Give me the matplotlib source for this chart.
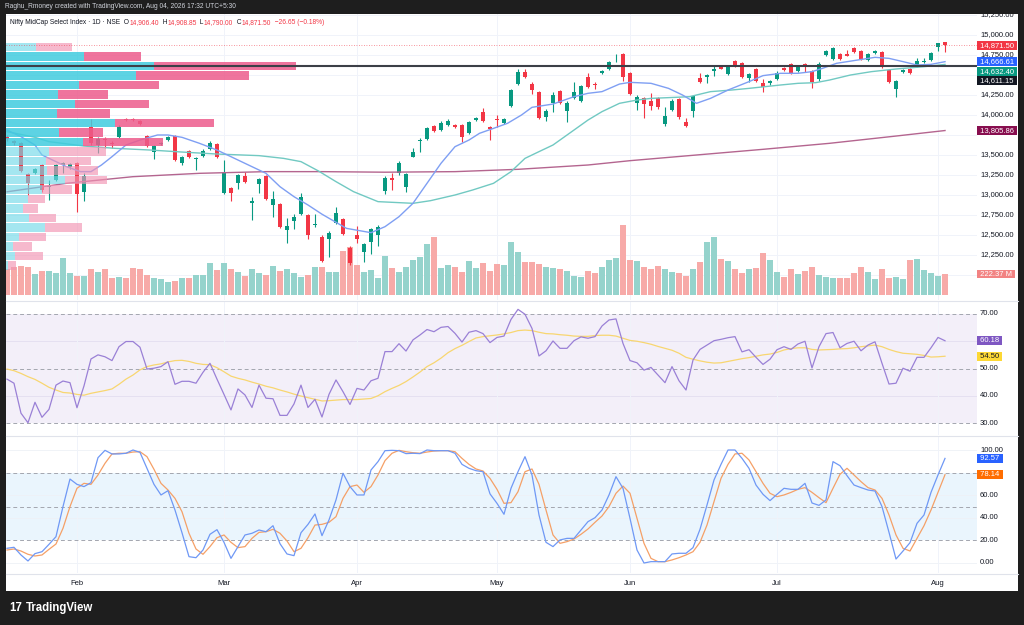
import matplotlib
matplotlib.use("Agg")
import matplotlib.pyplot as plt
from matplotlib.patches import Rectangle
from matplotlib.lines import Line2D

plt.rcParams["font.family"] = ["Liberation Sans", "DejaVu Sans"]

# --- data (one daily bar per entry, mid Jan -> Aug 04) ---
opens = [13725, 13675, 13646, 13262, 13279, 13375, 13100, 13187, 13380, 13354,
         13396, 13042, 13846, 13625, 13700, 13654, 13729, 13954, 13954, 13925,
         13737, 13533, 13633, 13687, 13737, 13396, 13550, 13450, 13492, 13579,
         13633, 13029, 13092, 13154, 13237, 12904, 13137, 13242, 12875, 12883,
         12562, 12671, 12762, 12746, 12625, 12479, 12446, 12654, 12696, 12333,
         12504, 12287, 12408, 12500, 13054, 13208, 13271, 13104, 13479, 13675,
         13700, 13862, 13812, 13875, 13879, 13879, 13771, 13937, 14037, 13850,
         13940, 13904, 14117, 14387, 14533, 14387, 14292, 13971, 14146, 14300,
         14054, 14208, 14179, 14471, 14387, 14521, 14571, 14695, 14758, 14521,
         14154, 14208, 14175, 14217, 13887, 14062, 14196, 13917, 14050, 14467,
         14479, 14554, 14596, 14512, 14675, 14646, 14467, 14575, 14404, 14396,
         14450, 14587, 14633, 14554, 14637, 14550, 14446, 14750, 14700, 14762,
         14758, 14833, 14804, 14687, 14775, 14783, 14562, 14321, 14537, 14575,
         14604, 14667, 14687, 14846, 14906.40]
highs = [13750, 13690, 13660, 13280, 13340, 13390, 13187, 13390, 13417, 13400,
         13410, 13270, 13946, 13720, 13720, 13670, 13870, 13965, 13962, 13935,
         13750, 13630, 13665, 13735, 13750, 13485, 13560, 13480, 13570, 13680,
         13650, 13437, 13105, 13265, 13290, 12979, 13215, 13255, 13054, 12895,
         12708, 12762, 13029, 12760, 12767, 12495, 12545, 12854, 12710, 12362,
         12612, 12400, 12590, 12625, 13235, 13279, 13420, 13280, 13583, 13708,
         13850, 13875, 13920, 13945, 13890, 13890, 13930, 13980, 14083, 13860,
         14000, 13960, 14325, 14570, 14570, 14417, 14305, 14070, 14287, 14315,
         14170, 14417, 14375, 14521, 14417, 14565, 14670, 14758, 14770, 14535,
         14250, 14220, 14279, 14230, 14096, 14195, 14210, 13958, 14250, 14529,
         14512, 14612, 14605, 14610, 14690, 14660, 14520, 14590, 14446, 14435,
         14545, 14600, 14645, 14610, 14654, 14565, 14667, 14815, 14845, 14775,
         14812, 14845, 14815, 14775, 14812, 14795, 14575, 14440, 14575, 14587,
         14708, 14708, 14785, 14905, 14908.85]
lows = [13670, 13630, 13290, 13000, 13260, 13040, 12937, 13170, 13270, 13330,
        12792, 12930, 13630, 13520, 13583, 13583, 13710, 13925, 13925, 13870,
        13600, 13446, 13620, 13675, 13425, 13380, 13460, 13312, 13480, 13565,
        13465, 13010, 12929, 13070, 13150, 12687, 13029, 12935, 12729, 12590,
        12404, 12579, 12745, 12450, 12604, 12165, 12229, 12640, 12495, 12130,
        12396, 12167, 12262, 12362, 13012, 13062, 13255, 13042, 13470, 13542,
        13690, 13790, 13800, 13865, 13835, 13667, 13760, 13925, 13915, 13687,
        13854, 13890, 14100, 14375, 14465, 14262, 13950, 13929, 14042, 14140,
        13917, 14195, 14165, 14335, 14320, 14510, 14560, 14667, 14429, 14250,
        14062, 13958, 14062, 14080, 13867, 14050, 13955, 13850, 13979, 14395,
        14396, 14487, 14570, 14500, 14605, 14458, 14417, 14415, 14292, 14380,
        14440, 14550, 14515, 14540, 14542, 14333, 14430, 14740, 14690, 14690,
        14735, 14770, 14690, 14675, 14765, 14590, 14400, 14229, 14525, 14510,
        14595, 14645, 14675, 14804, 14790.00]
closes = [13700, 13650, 13305, 13150, 13321, 13062, 13115, 13375, 13396, 13387,
          13012, 13242, 13646, 13700, 13690, 13637, 13854, 13937, 13937, 13883,
          13612, 13617, 13654, 13721, 13437, 13471, 13471, 13455, 13554, 13646,
          13479, 13279, 13029, 13250, 13162, 12929, 13200, 12950, 12946, 12604,
          12612, 12729, 12979, 12504, 12630, 12179, 12529, 12779, 12512, 12146,
          12454, 12383, 12575, 12604, 13217, 13187, 13404, 13262, 13542, 13680,
          13833, 13804, 13904, 13929, 13846, 13721, 13917, 13967, 13925, 13825,
          13935, 13946, 14312, 14542, 14479, 14312, 13967, 14054, 14250, 14154,
          14154, 14283, 14362, 14346, 14371, 14554, 14658, 14700, 14471, 14262,
          14229, 14137, 14112, 14096, 13987, 14179, 13971, 13862, 14237, 14408,
          14500, 14571, 14579, 14596, 14617, 14471, 14508, 14429, 14346, 14425,
          14529, 14562, 14529, 14596, 14630, 14408, 14637, 14804, 14833, 14700,
          14742, 14783, 14700, 14762, 14800, 14604, 14417, 14429, 14562, 14521,
          14679, 14675, 14771, 14898.15, 14871.50]
volumes_m = [280, 293, 311, 293, 219, 258, 258, 229, 395, 229,
             201, 201, 275, 247, 272, 177, 191, 180, 289, 272,
             212, 177, 166, 141, 152, 180, 177, 215, 215, 342,
             261, 335, 275, 240, 201, 275, 229, 208, 304, 251,
             279, 233, 194, 212, 297, 293, 240, 244, 466, 508,
             318, 247, 265, 177, 413, 282, 247, 300, 371, 406,
             540, 611, 282, 318, 293, 244, 360, 289, 335, 254,
             328, 318, 561, 455, 349, 349, 328, 300, 286, 272,
             254, 201, 191, 258, 233, 293, 371, 392, 741, 371,
             360, 297, 279, 307, 272, 247, 229, 205, 275, 349,
             565, 618, 381, 360, 275, 229, 272, 289, 448, 371,
             247, 191, 275, 222, 254, 293, 215, 194, 177, 180,
             180, 229, 293, 247, 169, 275, 177, 191, 173, 371,
             381, 261, 229, 201, 222.37]

# moving averages, sampled off the chart: (bar index, value)
ma_fast_idx = [0, 2, 4, 5, 7, 8.5, 10.5, 12, 13.5, 15, 17, 19, 21.5, 23, 25, 27.5,
               30, 32.5, 35, 37, 39, 41, 43, 45, 48.5, 52, 54, 56, 58, 60, 62, 64,
               66, 67.5, 69.5, 71.5, 73.5, 75, 78, 81, 83, 85, 87.5, 89, 92, 94.5,
               96.5, 98.5, 100.5, 103, 106, 108, 110.5, 113, 115, 116.5, 118.5,
               121.5, 124, 126, 128, 130, 132, 134]
ma_fast_val = [13812, 13729, 13625, 13500, 13417, 13354, 13292, 13292, 13375, 13479,
               13625, 13687, 13750, 13750, 13721, 13646, 13562, 13458, 13354, 13271,
               13104, 12979, 12875, 12760, 12583, 12529, 12604, 12729, 12896, 13146,
               13396, 13604, 13687, 13771, 13833, 13896, 14000, 14096, 14137, 14229,
               14271, 14292, 14387, 14408, 14396, 14333, 14250, 14146, 14208, 14312,
               14417, 14492, 14521, 14521, 14542, 14583, 14646, 14687, 14721, 14708,
               14667, 14625, 14633, 14666.61]
ma_slow_idx = [0, 4, 6, 11, 15.5, 20.5, 25, 30, 36, 39.5, 42, 44.5, 47, 49.5, 53, 58,
               60.5, 64, 66.5, 69.5, 72, 74, 76, 78, 81, 83, 85, 87.5, 90, 92, 94.5,
               97.5, 100.5, 103.5, 106, 110.5, 113, 115.5, 117.5, 120.5, 123.5, 127,
               131, 134]
ma_slow_val = [13792, 13721, 13667, 13612, 13583, 13562, 13537, 13512, 13492, 13458,
               13417, 13300, 13167, 13042, 12917, 12896, 12929, 13000, 13062, 13146,
               13292, 13458, 13542, 13625, 13812, 13937, 14042, 14146, 14187, 14208,
               14217, 14229, 14292, 14312, 14333, 14375, 14396, 14404, 14437, 14500,
               14542, 14575, 14604, 14632.40]
ma_long_idx = [0, 8.5, 18, 27.5, 37, 45, 54, 64, 73, 83, 89, 98.5, 108, 117.5, 127, 134]
ma_long_val = [13040, 13146, 13229, 13271, 13292, 13292, 13285, 13292, 13321, 13375,
               13429, 13500, 13571, 13646, 13737, 13805.86]

rsi = [46.1, 44.6, 33.6, 30.1, 37.6, 32.1, 35.0, 43.9, 45.4, 44.8,
       35.6, 43.6, 53.5, 55.0, 54.3, 52.9, 58.0, 59.9, 59.9, 57.8,
       49.8, 50.1, 50.7, 52.5, 44.2, 45.3, 45.3, 44.6, 48.6, 51.9,
       46.1, 40.5, 34.8, 42.5, 40.3, 35.7, 43.9, 39.1, 38.9, 32.8,
       32.8, 37.0, 43.9, 35.7, 38.7, 32.2, 40.5, 45.8, 41.5, 36.8,
       42.7, 42.1, 45.5, 46.4, 56.2, 56.2, 59.1, 56.4, 60.5, 62.3,
       64.3, 63.5, 65.1, 65.4, 62.9, 59.7, 63.3, 63.9, 62.8, 59.5,
       61.4, 61.9, 68.0, 71.7, 69.9, 64.7, 54.6, 56.5, 60.1, 57.4,
       57.4, 60.2, 61.6, 61.1, 61.7, 65.6, 67.8, 68.2, 59.2, 52.9,
       52.1, 49.4, 50.4, 47.6, 44.8, 50.7, 45.5, 42.1, 53.1, 57.0,
       58.6, 60.2, 60.7, 61.3, 61.7, 56.1, 56.9, 54.1, 51.5, 53.4,
       56.9, 58.0, 57.0, 59.0, 60.0, 50.2, 58.0, 62.8, 63.2, 57.6,
       59.2, 60.0, 56.5, 58.6, 59.8, 51.9, 44.3, 44.6, 50.1, 49.0,
       54.1, 54.1, 57.6, 61.4, 60.18]
rsi_ma = [49.8, 49.2, 48.2, 47.0, 46.0, 44.6, 43.1, 42.1, 41.2, 41.0,
          40.5, 40.2, 40.9, 41.4, 41.9, 42.5, 44.2, 46.1, 47.6, 49.5,
          50.7, 51.3, 51.7, 52.4, 52.9, 53.0, 52.6, 51.9, 51.5, 51.4,
          50.3, 48.8, 47.2, 46.4, 45.8, 45.0, 44.3, 43.5, 42.9, 42.1,
          41.4, 40.6, 39.9, 39.3, 38.7, 38.1, 38.2, 38.4, 38.6, 38.6,
          38.6, 38.8, 39.0, 40.0, 41.5, 42.7, 43.8, 45.2, 46.9, 48.7,
          50.7, 52.1, 53.8, 55.8, 57.3, 58.5, 59.9, 61.2, 61.7, 62.0,
          62.3, 62.7, 63.2, 63.9, 64.1, 63.9, 63.3, 62.8, 62.7, 62.4,
          62.2, 61.9, 61.8, 61.8, 62.1, 62.2, 62.2, 61.9, 61.1, 60.3,
          60.0, 59.5, 58.9, 58.1, 57.4, 56.7, 55.6, 54.1, 53.4, 52.8,
          52.3, 52.0, 52.1, 52.6, 53.1, 53.6, 54.0, 54.5, 55.0, 55.3,
          55.9, 56.8, 57.3, 57.6, 57.6, 57.0, 56.8, 56.9, 57.0, 57.2,
          57.3, 57.6, 58.0, 58.3, 58.6, 58.0, 57.0, 56.2, 55.6, 55.4,
          55.2, 54.8, 54.2, 54.3, 54.50]
stoch_k = [13.0, 13.9, 7.1, 1.8, 8.3, 10.0, 16.5, 23.3, 49.9, 74.3,
           69.6, 67.6, 71.1, 93.2, 99.7, 96.5, 96.5, 97.1, 100.0, 97.9,
           83.8, 69.6, 60.2, 64.0, 46.9, 26.8, 5.6, 4.7, 11.5, 25.4,
           29.5, 18.3, 4.1, 14.5, 24.8, 26.3, 29.2, 27.7, 33.0, 17.1,
           8.0, 6.5, 26.8, 34.2, 43.4, 24.2, 38.1, 55.8, 79.4, 67.6,
           60.2, 60.2, 82.3, 89.7, 99.4, 99.7, 99.4, 96.8, 97.1, 96.8,
           100.0, 99.4, 99.4, 99.4, 97.1, 87.3, 83.8, 81.7, 80.8, 61.2,
           52.8, 43.1, 66.1, 80.8, 94.1, 77.9, 42.5, 18.3, 14.5, 20.4,
           21.8, 21.8, 29.2, 36.6, 40.1, 46.9, 60.2, 76.4, 66.1, 39.5,
           11.5, 0.0, 1.2, 1.2, 1.2, 8.0, 8.6, 8.6, 13.6, 29.8,
           51.3, 73.5, 87.3, 100.0, 100.0, 92.6, 83.8, 69.0, 60.8, 55.2,
           60.8, 66.1, 65.2, 65.2, 70.5, 53.1, 51.0, 55.8, 89.7, 86.1,
           77.3, 69.0, 66.7, 64.6, 63.7, 49.9, 27.1, 3.5, 10.6, 18.0,
           35.1, 42.5, 62.5, 77.9, 92.57]
stoch_d = [11.5, 12.4, 10.6, 7.7, 6.2, 7.1, 12.1, 16.8, 30.7, 49.9,
           66.1, 70.5, 69.6, 77.9, 88.2, 96.5, 97.1, 97.1, 98.2, 98.5,
           94.1, 82.9, 70.5, 64.6, 57.2, 45.4, 26.3, 12.4, 7.7, 14.5,
           22.4, 24.8, 18.3, 13.6, 14.5, 21.8, 27.1, 27.7, 29.8, 26.3,
           19.5, 10.0, 13.0, 22.4, 33.6, 34.2, 36.0, 41.0, 57.2, 67.6,
           69.0, 62.5, 67.6, 77.9, 90.6, 97.1, 99.7, 98.5, 97.6, 97.1,
           98.2, 99.1, 99.4, 99.4, 98.5, 92.6, 87.3, 83.2, 81.4, 74.9,
           65.2, 52.8, 53.4, 63.1, 80.8, 83.2, 69.6, 46.9, 24.8, 17.4,
           18.9, 21.2, 25.4, 30.1, 36.0, 41.6, 49.9, 61.7, 68.1, 61.7,
           39.5, 17.4, 4.1, 1.2, 1.2, 2.7, 4.7, 7.1, 10.0, 18.3,
           33.6, 54.3, 74.9, 87.3, 96.5, 97.1, 91.2, 80.8, 70.5, 61.7,
           58.7, 60.2, 62.5, 65.2, 66.7, 62.5, 57.8, 53.4, 66.1, 78.5,
           83.8, 77.9, 72.0, 66.7, 64.6, 57.2, 42.5, 24.8, 13.0, 10.6,
           21.8, 33.0, 46.9, 62.5, 78.14]

# visible-range volume profile, rows from top (up / down volume, relative)
vp_top_price = 14910
vp_row_step = 118.75
vp_up = [30, 78, 148, 130, 73, 52, 69, 51, 109, 53, 77, 43, 40, 41, 59, 36,
         22, 17, 23, 39, 13, 7, 9, 2]
vp_down = [36, 57, 142, 113, 80, 50, 74, 53, 99, 44, 80, 57, 45, 51, 42, 30,
           17, 15, 27, 37, 27, 19, 28, 8]
poc_price = 14611.15

month_labels = ["Feb", "Mar", "Apr", "May", "Jun", "Jul", "Aug"]
month_start_idx = [10, 31, 50, 70, 89, 110, 133]

# --- layout, in pixels of the 1024x625 canvas ---
W, H = 1024, 625
PLOT_L, PLOT_R, SCALE_R = 6, 977, 1018
MAIN_Y, RSI_Y, STO_Y = (14, 300), (302, 435), (436, 573)
XLIM = (-0.14, 138.57)
TAG_PX = 9.5  # height of a price tag on the scale

UP, DOWN = "#089981", "#f23645"
VOL_UP, VOL_DOWN = "#95d3cc", "#f7aaa8"
TXT = "#131722"
GRID = "#f0f3fa"
FS = 5.5

fig = plt.figure(figsize=(W / 100, H / 100), dpi=100, facecolor="#1e1e1e")
fig.add_artist(Rectangle((PLOT_L / W, 1 - 591 / H), (SCALE_R - PLOT_L) / W, 577 / H,
                         transform=fig.transFigure, facecolor="white",
                         edgecolor="none", zorder=-1))


def rect(x0, x1, ytop, ybot):
    return [x0 / W, 1 - ybot / H, (x1 - x0) / W, (ybot - ytop) / H]


def px_line(x0, y0, x1, y1, color="#e0e3eb", lw=0.8):
    fig.add_artist(Line2D([x0 / W, x1 / W], [1 - y0 / H, 1 - y1 / H],
                          transform=fig.transFigure, color=color, lw=lw))


def pane(ytop, ybot, ylim, z=1):
    a = fig.add_axes(rect(PLOT_L, PLOT_R, ytop, ybot))
    a.set_xlim(*XLIM)
    a.set_ylim(*ylim)
    a.set_axis_off()
    a.set_zorder(z)
    return a


def scale(ytop, ybot, ylim):
    a = fig.add_axes(rect(PLOT_R, SCALE_R, ytop, ybot))
    a.set_xlim(0, 1)
    a.set_ylim(*ylim)
    a.set_axis_off()
    a.set_zorder(3)
    return a


def ticks(a, values, fmt, tag_ys, units_per_px):
    # a tick hidden behind a price tag is not drawn (TradingView covers it)
    for v in values:
        if any(abs(v - t) < 0.6 * TAG_PX * units_per_px for t in tag_ys):
            continue
        a.text(0.075, v, fmt.format(v), fontsize=FS, color=TXT, va="center",
               ha="left", clip_on=True)


def tag(a, y, s, bg, fg="white"):
    a.text(0.03, y, " " + s + " ", fontsize=FS, color=fg, va="center", ha="left",
           bbox=dict(boxstyle="square,pad=0.12", fc=bg, ec="none"), zorder=5)


def stack(values, gap):
    order = sorted(range(len(values)), key=lambda i: -values[i])
    pos, prev = list(values), None
    for i in order:
        p = values[i] if prev is None else min(values[i], prev - gap)
        pos[i], prev = p, p
    return pos


n = len(closes)
x = list(range(n))
up = [c >= o for o, c in zip(opens, closes)]
main_ylim = (11687.5, 15262.5)
main_upp = (main_ylim[1] - main_ylim[0]) / (MAIN_Y[1] - MAIN_Y[0])

# --- price pane ---
ax_bg = pane(*MAIN_Y, main_ylim, z=0)
for p in range(12000, 15251, 250):
    ax_bg.axhline(p, color=GRID, lw=0.7)
for m in month_start_idx:
    ax_bg.axvline(m, color=GRID, lw=0.7)

ax_vol = pane(*MAIN_Y, (-53, 2979), z=0.5)
ax_vol.bar(x, volumes_m, width=0.8, color=[VOL_UP if u else VOL_DOWN for u in up])

ax = pane(*MAIN_Y, main_ylim, z=1)
ax.vlines(x, lows, highs, colors=[UP if u else DOWN for u in up], lw=0.8)
ax.bar(x, [max(abs(c - o), 10) for o, c in zip(opens, closes)], width=0.66,
       bottom=[min(o, c) for o, c in zip(opens, closes)],
       color=[UP if u else DOWN for u in up])
ax.plot(ma_long_idx, ma_long_val, color="#b4658f", lw=1.0)
ax.plot(ma_slow_idx, ma_slow_val, color="#71c9c2", lw=1.0)
ax.plot(ma_fast_idx, ma_fast_val, color="#7f9ff3", lw=1.0)

# volume profile on the left edge
vp_tot = [u + d for u, d in zip(vp_up, vp_down)]
vp_scale = (290 / 7) / max(vp_tot)
vp_y = [vp_top_price - vp_row_step * (i + 0.5) for i in range(len(vp_up))]
in_va = [1 <= i <= 10 for i in range(len(vp_up))]
ax.barh(vp_y, [v * vp_scale for v in vp_up], height=vp_row_step * 0.88, left=XLIM[0],
        color=[(0.25, 0.80, 0.87, 0.85) if va else (0.45, 0.85, 0.91, 0.65) for va in in_va],
        zorder=4)
ax.barh(vp_y, [v * vp_scale for v in vp_down], height=vp_row_step * 0.88,
        left=[XLIM[0] + v * vp_scale for v in vp_up],
        color=[(0.93, 0.36, 0.55, 0.85) if va else (0.95, 0.58, 0.70, 0.65) for va in in_va],
        zorder=4)
ax.axhline(poc_price, color="#3c3f47", lw=1.5, zorder=5)
ax.axhline(closes[-1], color=DOWN, lw=0.6, ls=(0, (1, 2)), alpha=0.7, zorder=5)

ax_ps = scale(*MAIN_Y, main_ylim)
tag_vals = [closes[-1], ma_fast_val[-1], ma_slow_val[-1], poc_price]
tag_cols = [DOWN if closes[-1] < opens[-1] else UP, "#2962ff", UP, TXT]
tag_pos = stack(tag_vals, TAG_PX * main_upp)
for v, y, c in zip(tag_vals, tag_pos, tag_cols):
    tag(ax_ps, y, f"{v:,.2f}", c)
tag(ax_ps, ma_long_val[-1], f"{ma_long_val[-1]:,.2f}", "#880e4f")
vol_y = ax.transData.inverted().transform(ax_vol.transData.transform((0, volumes_m[-1])))[1]
tag(ax_ps, vol_y, f"{volumes_m[-1]:.2f} M", "#f28383")
ticks(ax_ps, range(12000, 15251, 250), "{:,.2f}",
      tag_pos + [ma_long_val[-1], vol_y], main_upp)

# --- RSI pane ---
rsi_ylim = (25.60, 74.40)
rsi_upp = (rsi_ylim[1] - rsi_ylim[0]) / (RSI_Y[1] - RSI_Y[0])
ax_r = pane(*RSI_Y, rsi_ylim)
ax_r.axhspan(30, 70, color="#7e57c2", alpha=0.09, lw=0)
for v in (60, 40):
    ax_r.axhline(v, color="#e3def0", lw=0.6)
for m in month_start_idx:
    ax_r.axvline(m, color=GRID, lw=0.7)
for v in (70, 50, 30):
    ax_r.axhline(v, color="#a3a6af", lw=0.7, ls=(0, (4, 3)))
ax_r.plot(x, rsi_ma, color="#f8d670", lw=0.9)
ax_r.plot(x, rsi, color="#9a80d6", lw=0.9)
ax_rs = scale(*RSI_Y, rsi_ylim)
tag(ax_rs, rsi[-1], f"{rsi[-1]:.2f}", "#7e57c2")
tag(ax_rs, rsi_ma[-1], f"{rsi_ma[-1]:.2f}", "#fdd835", fg=TXT)
ticks(ax_rs, (70, 60, 50, 40, 30), "{:.2f}", [rsi[-1], rsi_ma[-1]], rsi_upp)

# --- Stochastic pane ---
sto_ylim = (-8.85, 112.39)
sto_upp = (sto_ylim[1] - sto_ylim[0]) / (STO_Y[1] - STO_Y[0])
ax_s = pane(*STO_Y, sto_ylim)
ax_s.axhspan(20, 80, color="#2196f3", alpha=0.09, lw=0)
for v in (100, 60, 40, 0):
    ax_s.axhline(v, color="#eef1f6", lw=0.6)
for m in month_start_idx:
    ax_s.axvline(m, color=GRID, lw=0.7)
for v in (80, 50, 20):
    ax_s.axhline(v, color="#a3a6af", lw=0.7, ls=(0, (4, 3)))
ax_s.plot(x, stoch_d, color="#f5a067", lw=0.9)
ax_s.plot(x, stoch_k, color="#6f98f5", lw=0.9)
ax_ss = scale(*STO_Y, sto_ylim)
tag(ax_ss, stoch_k[-1], f"{stoch_k[-1]:.2f}", "#2962ff")
tag(ax_ss, stoch_d[-1], f"{stoch_d[-1]:.2f}", "#ff6d00")
ticks(ax_ss, (100, 80, 60, 40, 20, 0), "{:.2f}", [stoch_k[-1], stoch_d[-1]], sto_upp)

for m, lab in zip(month_start_idx, month_labels):
    ax_s.text(m, -0.08, lab, transform=ax_s.get_xaxis_transform(), fontsize=FS,
              color=TXT, ha="center", va="center", clip_on=False)

# pane separators
px_line(PLOT_L, 301, SCALE_R, 301)
px_line(PLOT_L, 435.5, SCALE_R, 435.5)
px_line(PLOT_L, 573.5, SCALE_R, 573.5)

# --- header / legend / footer ---
fig.text(5 / W, 1 - 7 / H, "Raghu_Rmoney created with TradingView.com, Aug 04, 2026 17:32 UTC+5:30",
         color="#d1d4dc", fontsize=4.8, va="center", ha="left")

renderer = fig.canvas.get_renderer()
chg = closes[-1] - closes[-2]
pct = chg / closes[-2] * 100
pieces = [("Nifty MidCap Select Index · 1D · NSE", TXT),
          ("  O", TXT), (f"{opens[-1]:,.2f}", DOWN),
          ("  H", TXT), (f"{highs[-1]:,.2f}", DOWN),
          ("  L", TXT), (f"{lows[-1]:,.2f}", DOWN),
          ("  C", TXT), (f"{closes[-1]:,.2f}", DOWN),
          (f"  {chg:+.2f} ({pct:+.2f}%)".replace("-", "\u2212"), DOWN)]
xp = 10
for s, col in pieces:
    t = fig.text(xp / W, 1 - 23 / H, s, color=col, fontsize=4.8, va="center", ha="left")
    xp += t.get_window_extent(renderer).width

fig.text(9 / W, 1 - 608 / H, "17", color="white", fontsize=8.3, fontweight="bold",
         va="center", ha="left")
fig.text(26 / W, 1 - 608 / H, "TradingView", color="white", fontsize=8.3,
         fontweight="bold", va="center", ha="left")

fig.savefig("out.png", dpi=100, facecolor=fig.get_facecolor())
